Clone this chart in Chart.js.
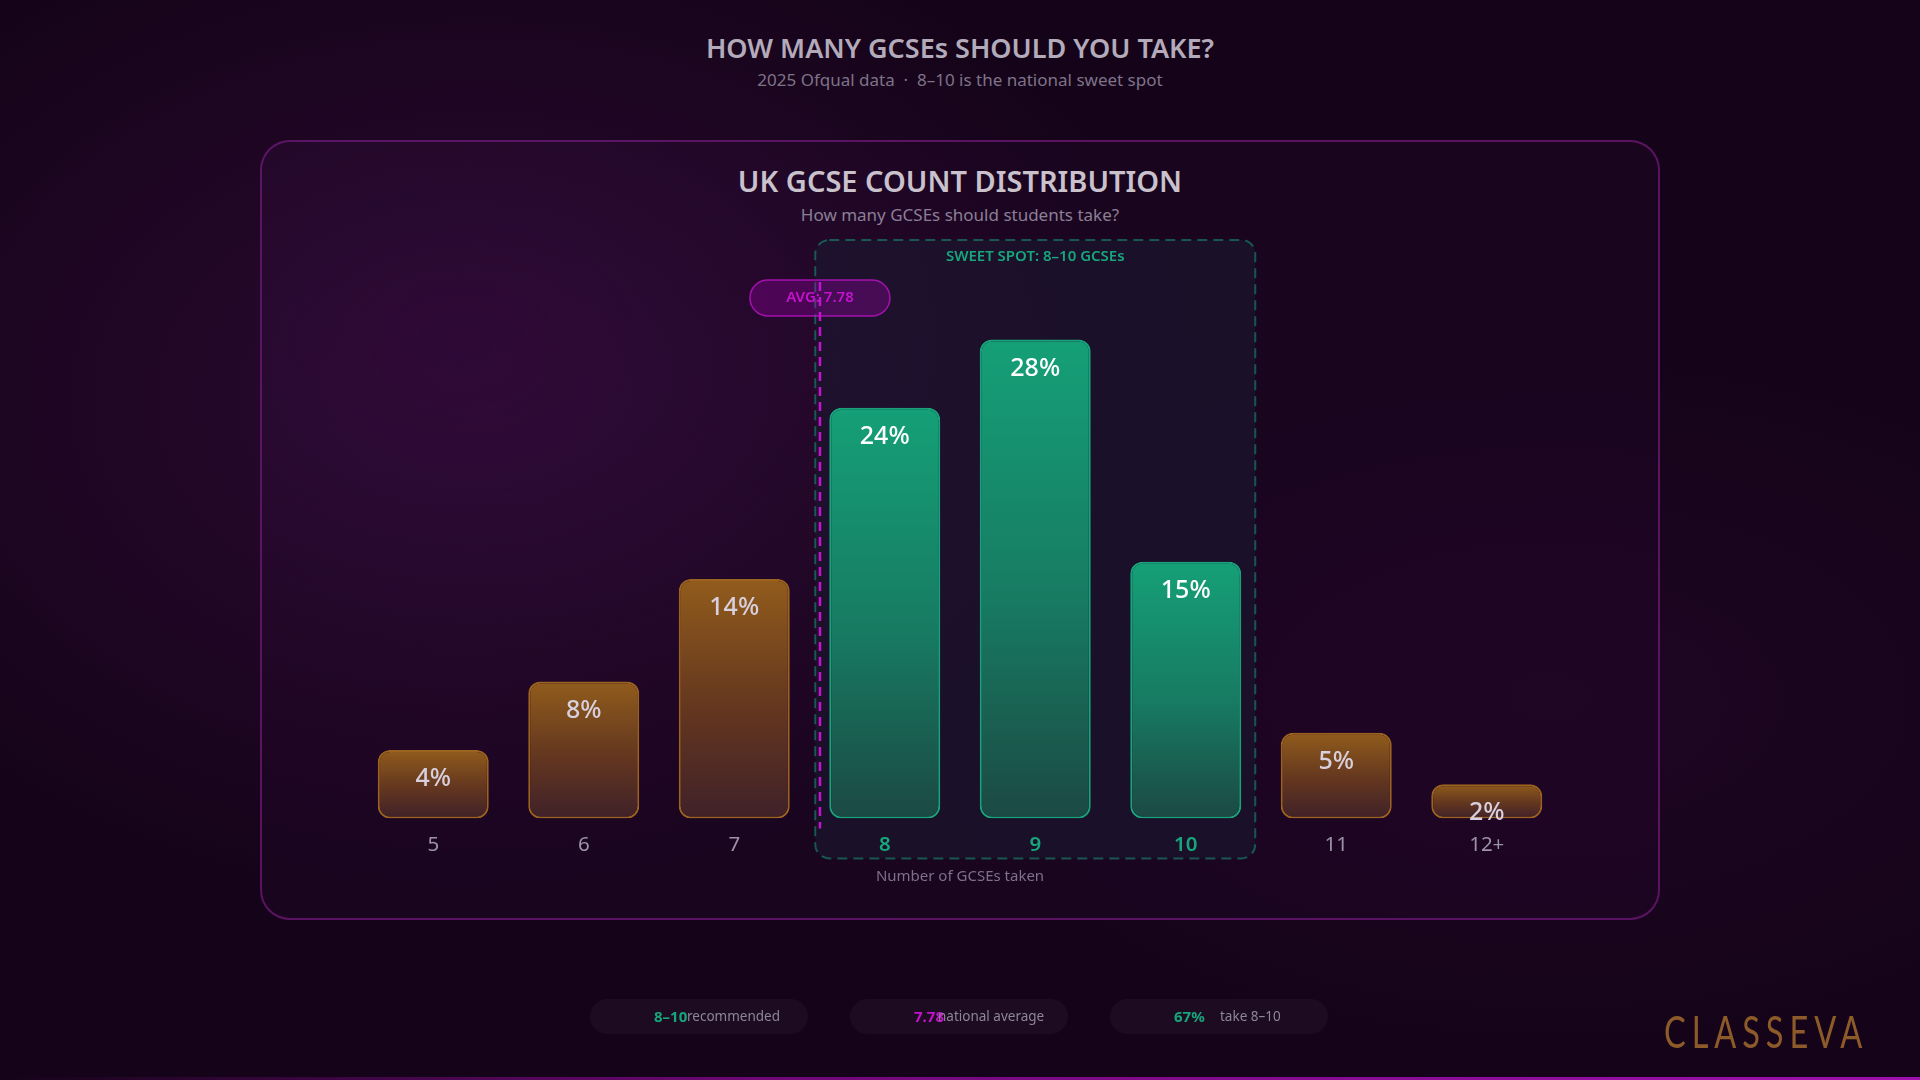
<!DOCTYPE html>
<html>
<head>
<meta charset="utf-8">
<title>How many GCSEs should you take?</title>
<script src="https://cdn.jsdelivr.net/npm/chart.js@4.4.1/dist/chart.umd.min.js"></script>
<style>
    html, body { margin: 0; padding: 0; }
    body {
        width: 1920px; height: 1080px; position: relative; overflow: hidden;
        font-family: 'Noto Sans', 'Open Sans', sans-serif;
        background:
            radial-gradient(ellipse 1000px 700px at 480px 400px, rgba(70, 16, 80, 0.45), rgba(70, 16, 80, 0) 72%),
            radial-gradient(ellipse 900px 500px at 1550px 700px, rgba(40, 8, 46, 0.45), rgba(0, 0, 0, 0) 70%),
            #150419;
    }
    .head { position: absolute; left: 0; width: 1920px; text-align: center; }
    #pageTitle { top: 30px; line-height: 36px; font-size: 27px; font-weight: 600; color: #b3abba; }
    #pageSub { top: 69px; line-height: 22px; font-size: 17px; color: #7f7389; }
    .card {
        position: absolute; left: 260px; top: 140px; width: 1400px; height: 780px;
        box-sizing: border-box; border: 2px solid rgba(112, 26, 122, 0.75); border-radius: 30px;
        background: radial-gradient(ellipse 700px 500px at 200px 200px, rgba(60, 14, 70, 0.3), rgba(0, 0, 0, 0) 75%),
                    rgba(40, 10, 48, 0.22);
    }
    #cardTitle { top: 161px; line-height: 40px; font-size: 29px; font-weight: 600; color: #c9c2cc; }
    #cardSub { top: 204px; line-height: 22px; font-size: 17px; color: #8b7f96; }
    #chartBox { position: absolute; left: 0; top: 0; width: 1920px; height: 1080px; }
    .pill {
        position: absolute; top: 999px; width: 218px; height: 35px; border-radius: 18px;
        background: rgba(255, 255, 255, 0.035);
    }
    .pill span { position: absolute; top: 0; line-height: 35px; white-space: nowrap; }
    .pill .v { left: 64px; font-size: 15px; font-weight: 700; }
    .pill .l { font-size: 13.5px; color: #8f8598; }
    #logo {
        position: absolute; left: 1664px; top: 1006px; font-family: 'Lato', sans-serif; font-weight: 400;
        font-size: 44px; line-height: 50px; letter-spacing: 8px; color: #8d5b29;
        transform: scaleX(0.74); transform-origin: left top;
    }
    #bottomLine {
        position: absolute; left: 0; top: 1077px; width: 1920px; height: 3px;
        background: linear-gradient(to right, rgba(150, 10, 160, 0) 0%, rgba(150, 10, 160, 0.7) 40%, #a010b0 100%);
    }
</style>
</head>
<body>
    <div class="head" id="pageTitle">HOW MANY GCSEs SHOULD YOU TAKE?</div>
    <div class="head" id="pageSub">2025 Ofqual data &nbsp;·&nbsp; 8–10 is the national sweet spot</div>
    <div class="card"></div>
    <div class="head" id="cardTitle">UK GCSE COUNT DISTRIBUTION</div>
    <div class="head" id="cardSub">How many GCSEs should students take?</div>
    <div id="chartBox"><canvas id="gcseChart" width="1920" height="1080"></canvas></div>
    <div id="pills"></div>
    <div id="logo">CLASSEVA</div>
    <div id="bottomLine"></div>

    <script>
        // chart values
        const gcseCounts = ['5', '6', '7', '8', '9', '10', '11', '12+'];
        const studentShare = [4, 8, 14, 24, 28, 15, 5, 2]; // % of students
        const sweetSpot = ['8', '9', '10'];
        const nationalAverage = 7.78;
        const yMax = 32;

        // summary pills under the card
        const summaryValues = ['8–10', '7.78', '67%'];
        const summaryLabels = ['recommended', 'national average', 'take 8–10'];
        const summaryColors = ['#17a67c', '#c512cf', '#17a67c'];

        const GREEN = '#17a67c';
        const MAGENTA = '#c512cf';

        function isSweet(i) {
            return sweetSpot.includes(gcseCounts[i]);
        }

        function barFill(c) {
            const chart = c.chart;
            if (!chart.chartArea) return 'rgba(0,0,0,0)';
            const ys = chart.scales.y;
            const top = ys.getPixelForValue(studentShare[c.dataIndex]);
            const bottom = ys.getPixelForValue(0);
            const g = chart.ctx.createLinearGradient(0, top, 0, bottom);
            if (isSweet(c.dataIndex)) {
                g.addColorStop(0, '#15a077');
                g.addColorStop(0.55, '#177a62');
                g.addColorStop(1, '#1b4943');
            } else {
                g.addColorStop(0, '#915c1c');
                g.addColorStop(0.55, '#63361f');
                g.addColorStop(1, '#402129');
            }
            return g;
        }

        function roundRect(ctx, x, y, w, h, r) {
            ctx.beginPath();
            ctx.moveTo(x + r, y);
            ctx.arcTo(x + w, y, x + w, y + h, r);
            ctx.arcTo(x + w, y + h, x, y + h, r);
            ctx.arcTo(x, y + h, x, y, r);
            ctx.arcTo(x, y, x + w, y, r);
            ctx.closePath();
        }

        // dashed "sweet spot" frame behind the 8-10 bars and their tick labels
        const sweetSpotBox = {
            id: 'sweetSpotBox',
            beforeDraw(chart) {
                const ctx = chart.ctx;
                const bars = chart.getDatasetMeta(0).data;
                if (!bars.length) return;
                const first = bars[gcseCounts.indexOf(sweetSpot[0])];
                const last = bars[gcseCounts.indexOf(sweetSpot[sweetSpot.length - 1])];
                const area = chart.chartArea;
                const left = first.x - first.width / 2 - 14;
                const right = last.x + last.width / 2 + 14;
                const top = area.top - 31;
                const bottom = area.bottom + 40;
                ctx.save();
                roundRect(ctx, left, top, right - left, bottom - top, 14);
                ctx.fillStyle = 'rgba(28, 26, 50, 0.55)';
                ctx.fill();
                ctx.setLineDash([10, 6]);
                ctx.lineWidth = 2;
                ctx.strokeStyle = 'rgba(22, 140, 110, 0.6)';
                ctx.stroke();
                ctx.setLineDash([]);
                ctx.fillStyle = GREEN;
                ctx.font = '600 15px "Noto Sans"';
                ctx.textAlign = 'center';
                ctx.textBaseline = 'middle';
                ctx.fillText('SWEET SPOT: 8–10 GCSEs', (left + right) / 2, top + 17);
                ctx.restore();
            }
        };

        // value labels inside the bars and the national average marker
        const overlays = {
            id: 'overlays',
            afterDatasetsDraw(chart) {
                const ctx = chart.ctx;
                const bars = chart.getDatasetMeta(0).data;
                const area = chart.chartArea;
                ctx.save();
                ctx.font = '500 25px "Noto Sans"';
                ctx.textAlign = 'center';
                ctx.textBaseline = 'middle';
                bars.forEach((b, i) => {
                    ctx.fillStyle = isSweet(i) ? '#ffffff' : '#d8d0de';
                    ctx.fillText(studentShare[i] + '%', b.x, b.y + 29);
                });

                // the reference puts the 7.78 marker just left of the 8 column
                const i7 = gcseCounts.indexOf('7');
                const step = bars[i7 + 1].x - bars[i7].x;
                const ax = bars[i7].x + (nationalAverage - 7) * step * 0.73;
                const pillW = 140, pillH = 36, pillY = area.top + 9;
                roundRect(ctx, ax - pillW / 2, pillY, pillW, pillH, pillH / 2);
                ctx.fillStyle = 'rgba(180, 0, 190, 0.28)';
                ctx.fill();
                ctx.lineWidth = 1.5;
                ctx.strokeStyle = 'rgba(200, 20, 210, 0.75)';
                ctx.stroke();
                ctx.fillStyle = MAGENTA;
                ctx.font = '600 15px "Noto Sans"';
                ctx.fillText('AVG: ' + nationalAverage, ax, pillY + pillH / 2);

                ctx.beginPath();
                ctx.setLineDash([9, 6]);
                ctx.lineWidth = 2.5;
                ctx.strokeStyle = MAGENTA;
                ctx.moveTo(ax, pillY + 2);
                ctx.lineTo(ax, area.bottom + 10);
                ctx.stroke();
                ctx.restore();
            }
        };

        const ctx = document.getElementById('gcseChart').getContext('2d');
        const gcseChart = new Chart(ctx, {
            type: 'bar',
            data: {
                labels: gcseCounts,
                datasets: [{
                    data: studentShare,
                    backgroundColor: barFill,
                    borderColor: (c) => isSweet(c.dataIndex) ? '#17a47b' : '#9c621f',
                    borderWidth: 2,
                    borderRadius: 12,
                    borderSkipped: false,
                    barPercentage: 0.7375,
                    categoryPercentage: 1.0
                }]
            },
            options: {
                responsive: false,
                animation: false,
                layout: { padding: { left: 358, right: 358, top: 271, bottom: 194 } },
                plugins: {
                    legend: { display: false },
                    tooltip: { enabled: false }
                },
                scales: {
                    x: {
                        grid: { display: false, drawTicks: false },
                        border: { display: false },
                        ticks: {
                            padding: 14,
                            color: (c) => isSweet(c.index) ? GREEN : '#9c92a6',
                            font: (c) => ({ family: 'Noto Sans', size: 20.5, weight: isSweet(c.index) ? '600' : '400' })
                        },
                        title: {
                            display: true,
                            text: 'Number of GCSEs taken',
                            color: '#7d7088',
                            font: { family: 'Noto Sans', size: 15 },
                            padding: { top: -3, bottom: 0 }
                        }
                    },
                    y: {
                        display: false,
                        min: 0,
                        max: yMax
                    }
                }
            },
            plugins: [sweetSpotBox, overlays]
        });

        // summary pills
        const pillBox = document.getElementById('pills');
        const labelOffsets = [97, 88, 110];
        summaryValues.forEach((v, i) => {
            const p = document.createElement('div');
            p.className = 'pill';
            p.style.left = (590 + i * 260) + 'px';
            p.innerHTML = '<span class="v" style="color:' + summaryColors[i] + '">' + v + '</span>' +
                '<span class="l" style="left:' + labelOffsets[i] + 'px">' + summaryLabels[i] + '</span>';
            pillBox.appendChild(p);
        });
    </script>
</body>
</html>
